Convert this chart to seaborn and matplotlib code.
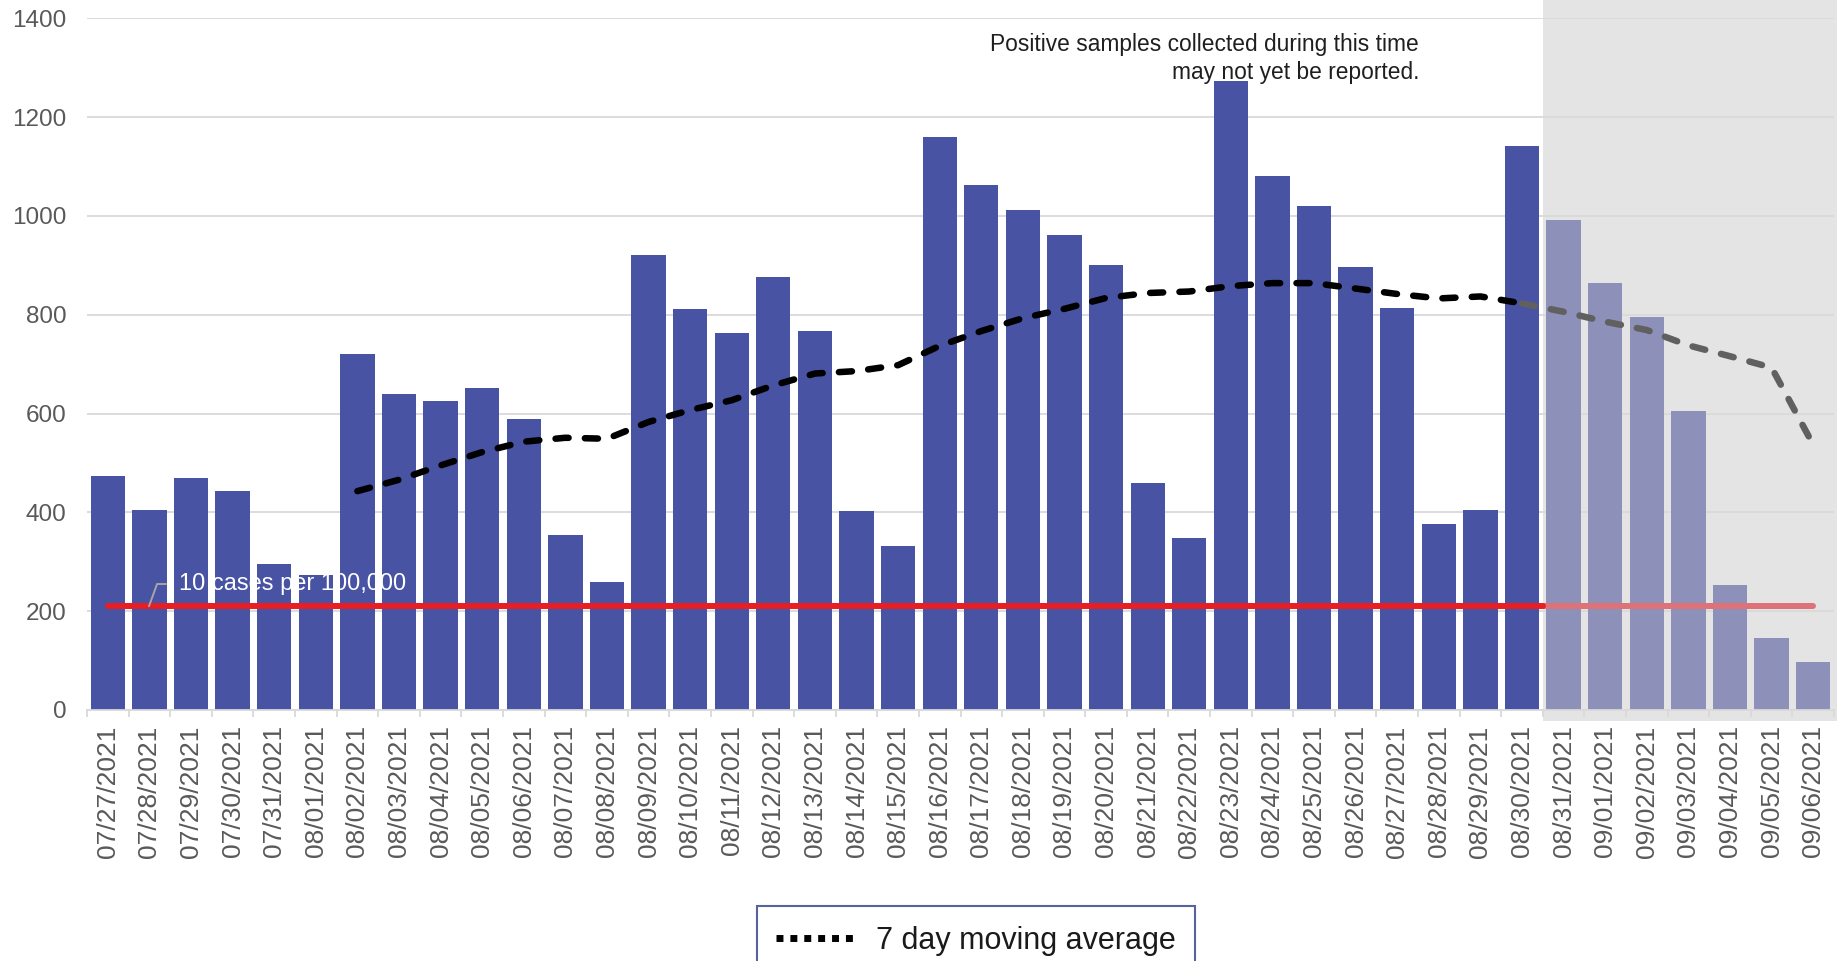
import numpy as np
import pandas as pd
import seaborn as sns
import matplotlib.pyplot as plt
import matplotlib.transforms as mtransforms
from matplotlib.lines import Line2D
from matplotlib.patches import Rectangle

# daily positive samples, 07/27/2021 - 09/06/2021
dates = pd.date_range("2021-07-27", "2021-09-06").strftime("%m/%d/%Y").tolist()
cases = [474, 405, 470, 444, 295, 274, 721, 640, 625, 651, 589, 354, 260, 920,
         812, 764, 876, 767, 402, 331, 1160, 1062, 1012, 962, 900, 459, 348,
         1274, 1081, 1021, 897, 813, 376, 405, 1141, 992, 865, 796, 606, 252,
         145, 98]

# 7 day moving average, starts on 08/02
ma_start = 6
moving_avg = [443, 466, 495, 522, 543, 551, 549, 583, 607, 627, 657, 681, 686,
              698, 737, 767, 793, 812, 834, 844, 847, 858, 864, 864, 853, 842,
              833, 837, 823, 806, 786, 769, 738, 716, 693, 537]

threshold = 210          # 10 cases per 100,000
first_pending = 35       # 08/31 onwards may not be fully reported yet

BLUE = "#4853a3"
BLUE_LIGHT = "#8d90b8"
RED = "#e81e25"
RED_LIGHT = "#dd7278"
SHADE = "#e4e4e4"
GRID = "#d9d9d9"
TICK = "#595959"

sns.set_theme(style="white")
plt.rcParams["font.family"] = ["Liberation Sans", "DejaVu Sans"]

W, H = 1847, 961
fig = plt.figure(figsize=(W / 100, H / 100), dpi=100)
ax = fig.add_axes([87 / W, 1 - 710 / H, (1834 - 87) / W, (710 - 18.3) / H])

n = len(dates)
df = pd.DataFrame({"date": dates, "cases": cases})
bar_colors = [BLUE if i < first_pending else BLUE_LIGHT for i in range(n)]
sns.barplot(data=df, x="date", y="cases", hue="date", palette=bar_colors,
            legend=False, width=0.825, saturation=1, linewidth=0, ax=ax,
            zorder=2)

# shaded "not yet reported" region
trans = mtransforms.blended_transform_factory(ax.transData, ax.transAxes)
ax.add_patch(Rectangle((first_pending - 0.5, -0.016), n - first_pending + 0.07,
                       1.05, transform=trans, facecolor=SHADE, edgecolor="none",
                       clip_on=False, zorder=0.2))

# threshold line
x_all = np.arange(n)
split = first_pending - 0.5
sns.lineplot(x=[split, x_all[-1]], y=[threshold, threshold], color=RED_LIGHT,
             lw=4.3, solid_capstyle="round", ax=ax, zorder=3)
sns.lineplot(x=[x_all[0], split], y=[threshold, threshold], color=RED,
             lw=4.3, solid_capstyle="round", ax=ax, zorder=3.1)

# moving average
ma_x = np.arange(ma_start, ma_start + len(moving_avg))
ma = np.array(moving_avg)
done = ma_x <= first_pending - 1
dash = (0, (2, 2.5))
sns.lineplot(x=ma_x[done], y=ma[done], color="black", lw=4.7, linestyle=dash,
             dash_capstyle="round", ax=ax, zorder=4)
last = done.sum() - 1
sns.lineplot(x=ma_x[last:], y=ma[last:], color="#606060", lw=4.7,
             linestyle=dash, dash_capstyle="round", ax=ax, zorder=4)

# axes styling
ax.set_xlim(-0.5, n - 0.5)
ax.set_ylim(0, 1400)
ax.set_yticks(range(0, 1401, 200))
ax.set_axisbelow(True)
ax.yaxis.grid(True, color=GRID, lw=1.3)
ax.xaxis.grid(False)
for side in ["top", "right", "left"]:
    ax.spines[side].set_visible(False)
ax.spines["bottom"].set_color(GRID)
ax.spines["bottom"].set_linewidth(1.3)
ax.set_xlabel("")
ax.set_ylabel("")
ax.set_xticks(range(n), dates)
ax.set_xticks(np.arange(-0.5, n), minor=True)
ax.tick_params(axis="x", which="major", length=0, pad=11, labelsize=19,
               labelcolor=TICK, labelrotation=90)
ax.tick_params(axis="x", which="minor", length=5, width=1.3, color=GRID,
               direction="out", bottom=True)
ax.tick_params(axis="y", length=0, pad=15, labelsize=17.5, labelcolor=TICK)

# annotations
ax.annotate("10 cases per 100,000", xy=(0.99, threshold), xytext=(1.71, 255),
            color="white", fontsize=17, va="center", ha="left", zorder=5,
            arrowprops=dict(arrowstyle="-", color="#a6a6a6", lw=1.4,
                            shrinkA=7, shrinkB=0, relpos=(0, 0.5),
                            connectionstyle="angle,angleA=180,angleB=70,rad=0"))
ax.text(31.52, 1333, "Positive samples collected during this time",
        ha="right", va="baseline", fontsize=16.4, color="#1f1f1f", zorder=5)
ax.text(31.52, 1277, "may not yet be reported.",
        ha="right", va="baseline", fontsize=16.4, color="#1f1f1f", zorder=5)

handle = Line2D([], [], color="black", lw=5, linestyle=(0, (1, 1)),
                dash_capstyle="butt")
leg = fig.legend([handle], ["7 day moving average"], loc="upper center",
                 bbox_to_anchor=(976 / W, 1 - 906 / H), frameon=True,
                 fancybox=False, handlelength=2.65, handletextpad=0.6,
                 borderpad=0.65, borderaxespad=0,
                 prop={"family": ["Liberation Sans Narrow", "Liberation Sans"],
                       "size": 22})
leg.get_frame().set_edgecolor("#2f3b8a")
leg.get_frame().set_linewidth(1.5)
for t in leg.get_texts():
    t.set_color("#1a1a1a")

fig.savefig("out.png", dpi=100)
